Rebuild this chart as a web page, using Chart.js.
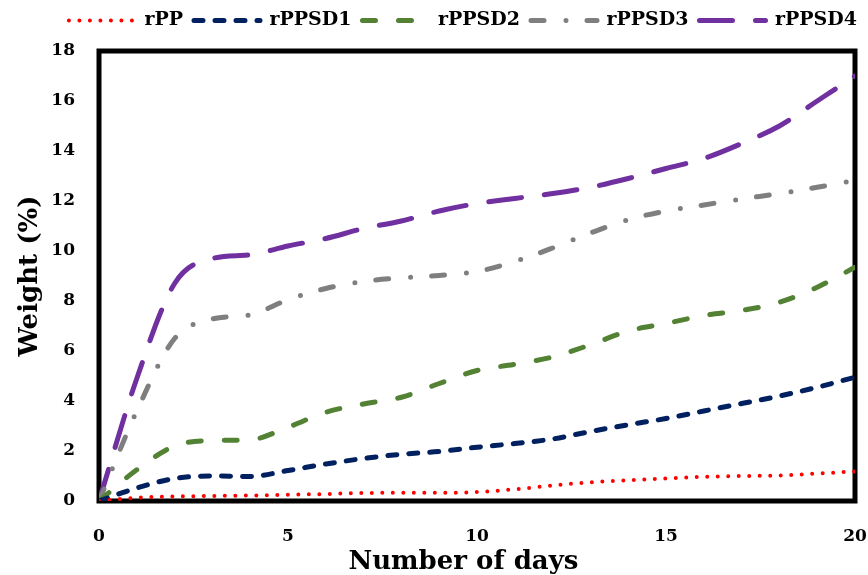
<!DOCTYPE html>
<html>
<head>
<meta charset="utf-8">
<script src="https://cdn.jsdelivr.net/npm/chart.js@4.4.1/dist/chart.umd.min.js"></script>
<style>
html, body { margin: 0; padding: 0; background: #fff; overflow: hidden; }
canvas { display: block; }
</style>
</head>
<body>
<canvas id="myChart" width="868" height="575"></canvas>
<script>
// values, one per day
var days    = [0, 1, 2, 3, 4, 5, 6, 7, 8, 9, 10, 11, 12, 13, 14, 15, 16, 17, 18, 19, 20];
var rPP     = [0, 0.13, 0.18, 0.2, 0.22, 0.25, 0.28, 0.32, 0.33, 0.33, 0.36, 0.47, 0.62, 0.75, 0.83, 0.9, 0.97, 1.0, 1.02, 1.1, 1.18];
var rPPSD1  = [0, 0.52, 0.9, 1.0, 0.98, 1.22, 1.48, 1.7, 1.87, 1.98, 2.15, 2.3, 2.48, 2.78, 3.05, 3.3, 3.6, 3.9, 4.2, 4.55, 4.95];
var rPPSD2  = [0, 1.25, 2.2, 2.42, 2.45, 2.95, 3.55, 3.88, 4.15, 4.7, 5.22, 5.47, 5.76, 6.25, 6.8, 7.1, 7.42, 7.62, 7.95, 8.55, 9.35];
var rPPSD3  = [0, 3.6, 6.5, 7.28, 7.45, 8.05, 8.5, 8.78, 8.93, 9.02, 9.18, 9.58, 10.12, 10.72, 11.25, 11.6, 11.84, 12.08, 12.3, 12.55, 12.82];
var rPPSD4  = [0, 4.9, 8.7, 9.7, 9.85, 10.2, 10.5, 10.9, 11.2, 11.6, 11.9, 12.1, 12.3, 12.55, 12.9, 13.3, 13.7, 14.3, 15.0, 16.0, 17.0];
var xTicks  = [0, 5, 10, 15, 20];
var yTicks  = [0, 2, 4, 6, 8, 10, 12, 14, 16, 18];

var serif = "'DejaVu Serif', serif";

function pts(vals){
	return days.map(function(d, i){ return {x: d, y: vals[i]}; });
}

function line(label, vals, color, dash, width){
	return {
		label: label,
		data: pts(vals),
		borderColor: color,
		backgroundColor: color,
		borderWidth: width,
		borderDash: dash,
		borderCapStyle: 'round',
		pointRadius: 0,
		fill: false,
		cubicInterpolationMode: 'monotone'
	};
}

// thick black frame round the plot
var frame = {
	id: 'frame',
	beforeDatasetsDraw: function(chart){
		var a = chart.chartArea, ctx = chart.ctx;
		ctx.save();
		ctx.strokeStyle = '#000';
		ctx.lineWidth = 5;
		ctx.strokeRect(a.left, a.top, a.right - a.left, a.bottom - a.top);
		ctx.restore();
	}
};

// fixed legend height so the plot starts where it does in the picture
var legendHeight = {
	id: 'legendHeight',
	beforeInit: function(chart){
		var fit = chart.legend.fit;
		chart.legend.fit = function(){
			fit.bind(chart.legend)();
			this.height = 51;
		};
	}
};

var ctx = document.getElementById('myChart');
var myChart = new Chart(ctx, {
	type: 'line',
	data: {
		datasets: [
			line('rPP', rPP, '#ff0000', [0, 10.5], 4),
			line('rPPSD1', rPPSD1, '#002060', [9, 12], 5),
			line('rPPSD2', rPPSD2, '#548235', [13, 23], 5),
			line('rPPSD3', rPPSD3, '#7f7f7f', [13, 22, 0, 21], 5),
			line('rPPSD4', rPPSD4, '#7030a0', [33, 23], 5)
		]
	},
	options: {
		responsive: false,
		animation: false,
		devicePixelRatio: 1,
		layout: { padding: 0 },
		plugins: {
			legend: {
				align: 'end',
				labels: {
					usePointStyle: true,
					pointStyleWidth: 66,
					padding: 11,
					color: '#000',
					font: { family: serif, size: 19, weight: 'bold' },
					// keep the dash pattern of each line in the legend sample
					generateLabels: function(chart){
						return chart.data.datasets.map(function(ds, i){
							return {
								text: ds.label,
								strokeStyle: ds.borderColor,
								fillStyle: ds.borderColor,
								lineWidth: ds.borderWidth,
								lineDash: ds.borderDash,
								lineCap: 'round',
								pointStyle: 'line',
								fontColor: '#000',
								hidden: false,
								datasetIndex: i
							};
						});
					}
				}
			},
			tooltip: { enabled: false }
		},
		scales: {
			x: {
				type: 'linear',
				min: 0,
				max: 20,
				afterBuildTicks: function(s){ s.ticks = xTicks.map(function(v){ return {value: v}; }); },
				afterFit: function(s){
					s.height = 74;
					s.paddingLeft = 0;
					s.paddingRight = 13;
				},
				grid: { display: false, drawTicks: false },
				border: { display: false },
				ticks: {
					padding: 25,
					color: '#000',
					font: { family: serif, size: 17, weight: 'bold' }
				},
				title: {
					display: true,
					text: 'Number of days\u00a0\u00a0\u00a0',
					color: '#000',
					padding: { top: 0, bottom: 0 },
					font: { family: serif, size: 26, weight: 'bold', lineHeight: 1 }
				}
			},
			y: {
				min: 0,
				max: 18,
				afterBuildTicks: function(s){ s.ticks = yTicks.map(function(v){ return {value: v}; }); },
				afterFit: function(s){ s.width = 99; },
				grid: { display: false, drawTicks: false },
				border: { display: false },
				ticks: {
					padding: 24,
					color: '#000',
					font: { family: serif, size: 17, weight: 'bold' }
				},
				title: {
					display: true,
					text: 'Weight (%)',
					color: '#000',
					padding: { top: 17, bottom: 0 },
					font: { family: serif, size: 26, weight: 'bold', lineHeight: 1 }
				}
			}
		}
	},
	plugins: [frame, legendHeight]
});
</script>
</body>
</html>
